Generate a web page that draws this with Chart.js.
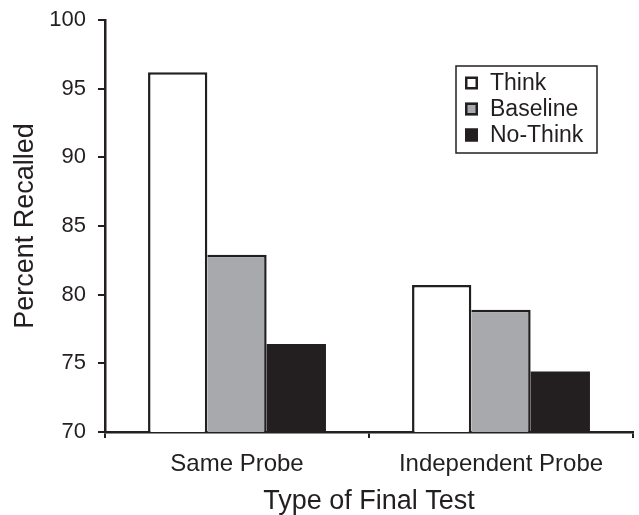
<!DOCTYPE html>
<html>
<head>
<meta charset="utf-8">
<script src="https://cdn.jsdelivr.net/npm/chart.js@4/dist/chart.umd.min.js"></script>
<style>
  html, body { margin: 0; padding: 0; background: #fff; }
  #wrap { width: 639px; height: 515px; position: relative; }
</style>
</head>
<body>
<div id="wrap"><canvas id="chart"></canvas></div>
<script>
const categories = ['Same Probe', 'Independent Probe'];
const seriesNames = ['Think', 'Baseline', 'No-Think'];
const thinkValues = [96.2, 80.7];
const baselineValues = [82.9, 78.9];
const noThinkValues = [76.4, 74.4];
const yTicks = [70, 75, 80, 85, 90, 95, 100];

const ink = '#231f20';
const font = 'Liberation Sans, Arial, sans-serif';

// legend box drawn inside the plot, top right
const boxLegend = {
  id: 'boxLegend',
  afterDraw(chart) {
    const { ctx, chartArea } = chart;
    const x = chartArea.right - 177, y = chartArea.top + 46;
    const w = 141, h = 87;
    ctx.save();
    ctx.lineWidth = 1.5;
    ctx.strokeStyle = ink;
    ctx.strokeRect(x, y, w, h);
    ctx.font = '23px ' + font;
    ctx.textBaseline = 'middle';
    chart.data.datasets.forEach((ds, i) => {
      const cy = y + 17 + i * 26;
      ctx.fillStyle = ds.backgroundColor;
      ctx.fillRect(x + 9, cy - 6.5, 13, 13);
      ctx.lineWidth = 2.5;
      ctx.strokeStyle = ink;
      ctx.strokeRect(x + 10.25, cy - 5.25, 10.5, 10.5);
      ctx.fillStyle = ink;
      ctx.fillText(ds.label, x + 34, cy + 1);
    });
    ctx.restore();
  }
};

new Chart(document.getElementById('chart'), {
  type: 'bar',
  data: {
    labels: categories,
    datasets: [
      { label: seriesNames[0], data: thinkValues, backgroundColor: '#ffffff', borderColor: ink,
        borderWidth: { top: 2.5, left: 2.5, right: 2.5, bottom: 0 } },
      { label: seriesNames[1], data: baselineValues, backgroundColor: '#a7a9ac', borderColor: ink,
        borderWidth: { top: 2.5, left: 0, right: 2.5, bottom: 0 } },
      { label: seriesNames[2], data: noThinkValues, backgroundColor: ink, borderColor: ink,
        borderWidth: 0 }
    ]
  },
  options: {
    responsive: true,
    maintainAspectRatio: false,
    animation: false,
    categoryPercentage: 0.674,
    barPercentage: 1.0,
    layout: { padding: { top: 20, right: 6, left: 0, bottom: 0 } },
    plugins: { legend: { display: false }, tooltip: { enabled: false } },
    scales: {
      x: {
        afterFit: scale => { scale.height = 83; },
        grid: { offset: true, drawOnChartArea: false, drawTicks: true, tickLength: 6, color: ink, lineWidth: 2 },
        border: { color: ink, width: 2.5 },
        ticks: { color: ink, font: { family: font, size: 24 }, padding: 12 },
        title: { display: true, text: 'Type of Final Test', color: ink, font: { family: font, size: 27, lineHeight: 1 }, padding: { top: 0, bottom: 0 } }
      },
      y: {
        min: 70,
        max: 100,
        afterFit: scale => { scale.width = 105; scale.paddingTop = 0; scale.paddingBottom = 0; },
        afterBuildTicks: scale => { scale.ticks = yTicks.map(v => ({ value: v })); },
        grid: { drawOnChartArea: false, drawTicks: true, tickLength: 7, color: ink, lineWidth: 2 },
        border: { color: ink, width: 2.5 },
        ticks: { color: ink, font: { family: font, size: 22 }, padding: 12 },
        title: { display: true, text: 'Percent Recalled', color: ink, font: { family: font, size: 27, lineHeight: 1 }, padding: { top: 12, bottom: 0 } }
      }
    }
  },
  plugins: [boxLegend]
});
</script>
</body>
</html>
